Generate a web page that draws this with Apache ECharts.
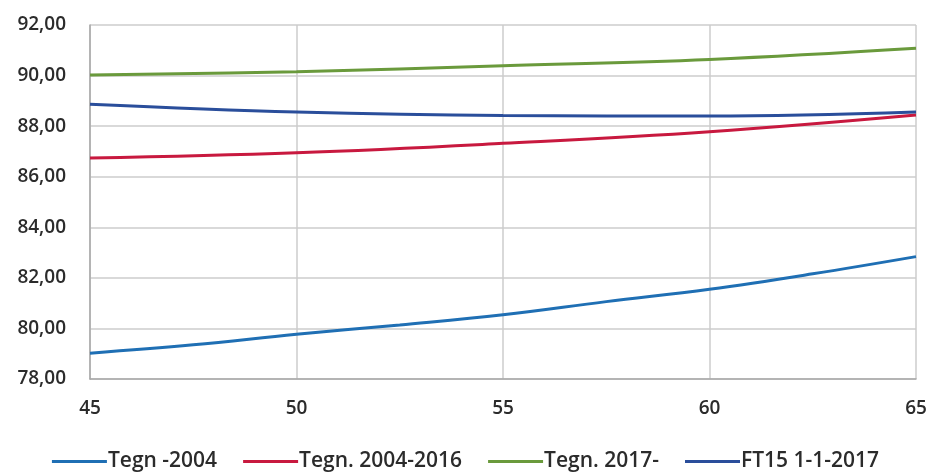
<!DOCTYPE html>
<html><head><meta charset="utf-8">
<script src="https://cdn.jsdelivr.net/npm/echarts@6/dist/echarts.min.js"></script>
<style>html,body{margin:0;padding:0;background:#fff}#c{width:931px;height:473px}</style>
</head><body><div id="c"></div>
<script>
const seriesNames = ['Tegn -2004', 'Tegn. 2004-2016', 'Tegn. 2017-', 'FT15 1-1-2017'];
const ages1 = [45, 47.5, 50, 52.5, 55, 57.5, 60, 62.5, 65];
const tegn2004 = [79.02, 79.35, 79.77, 80.14, 80.54, 81.06, 81.55, 82.16, 82.84];
const ages = [45, 50, 55, 60, 65];
const tegn2004_2016 = [86.74, 86.95, 87.32, 87.78, 88.44];
const tegn2017 = [90.02, 90.15, 90.39, 90.64, 91.08];
const ft15 = [88.87, 88.56, 88.42, 88.40, 88.56];
const yTicks = [78, 80, 82, 84, 86, 88, 90, 92];
const xTicks = [45, 50, 55, 60, 65];

const colors = ['#1f6fb4', '#c8193f', '#6a9a3c', '#2a4e9b'];
const pair = (xs, ys) => xs.map((x, i) => [x, ys[i]]);
const font = '"Open Sans", sans-serif';

const chart = echarts.init(document.getElementById('c'));
chart.setOption({
  animation: false,
  color: colors,
  grid: {left: 90, right: 15, top: 25, bottom: 94},
  xAxis: {
    type: 'value', min: xTicks[0], max: xTicks[xTicks.length - 1], interval: 5,
    axisLine: {lineStyle: {color: '#a8a8a8', width: 1.5}},
    axisTick: {show: false},
    splitLine: {show: true, lineStyle: {color: '#cccccc', width: 1.5}},
    axisLabel: {margin: 20, fontSize: 19, fontWeight: 600, color: '#2b2b2b', fontFamily: font}
  },
  yAxis: {
    type: 'value', min: yTicks[0], max: yTicks[yTicks.length - 1], interval: 2,
    axisLine: {show: true, lineStyle: {color: '#a8a8a8', width: 1.5}},
    axisTick: {show: false},
    splitLine: {lineStyle: {color: '#cccccc', width: 1.5}},
    axisLabel: {margin: 24, fontSize: 19, fontWeight: 600, color: '#2b2b2b', fontFamily: font,
      formatter: v => v.toFixed(2).replace('.', ',')}
  },
  legend: {
    top: 446, left: 'center', itemWidth: 55, itemHeight: 3, itemGap: 26,
    icon: 'rect',
    textStyle: {fontSize: 21, fontWeight: 600, color: '#2b2b2b', fontFamily: font, padding: [0, 0, 0, -4]},
    data: seriesNames
  },
  series: [
    {name: seriesNames[0], type: 'line', data: pair(ages1, tegn2004)},
    {name: seriesNames[1], type: 'line', data: pair(ages, tegn2004_2016)},
    {name: seriesNames[2], type: 'line', data: pair(ages, tegn2017)},
    {name: seriesNames[3], type: 'line', data: pair(ages, ft15)}
  ].map(s => Object.assign(s, {smooth: 0.4, showSymbol: false, lineStyle: {width: 3}}))
});
</script></body></html>
